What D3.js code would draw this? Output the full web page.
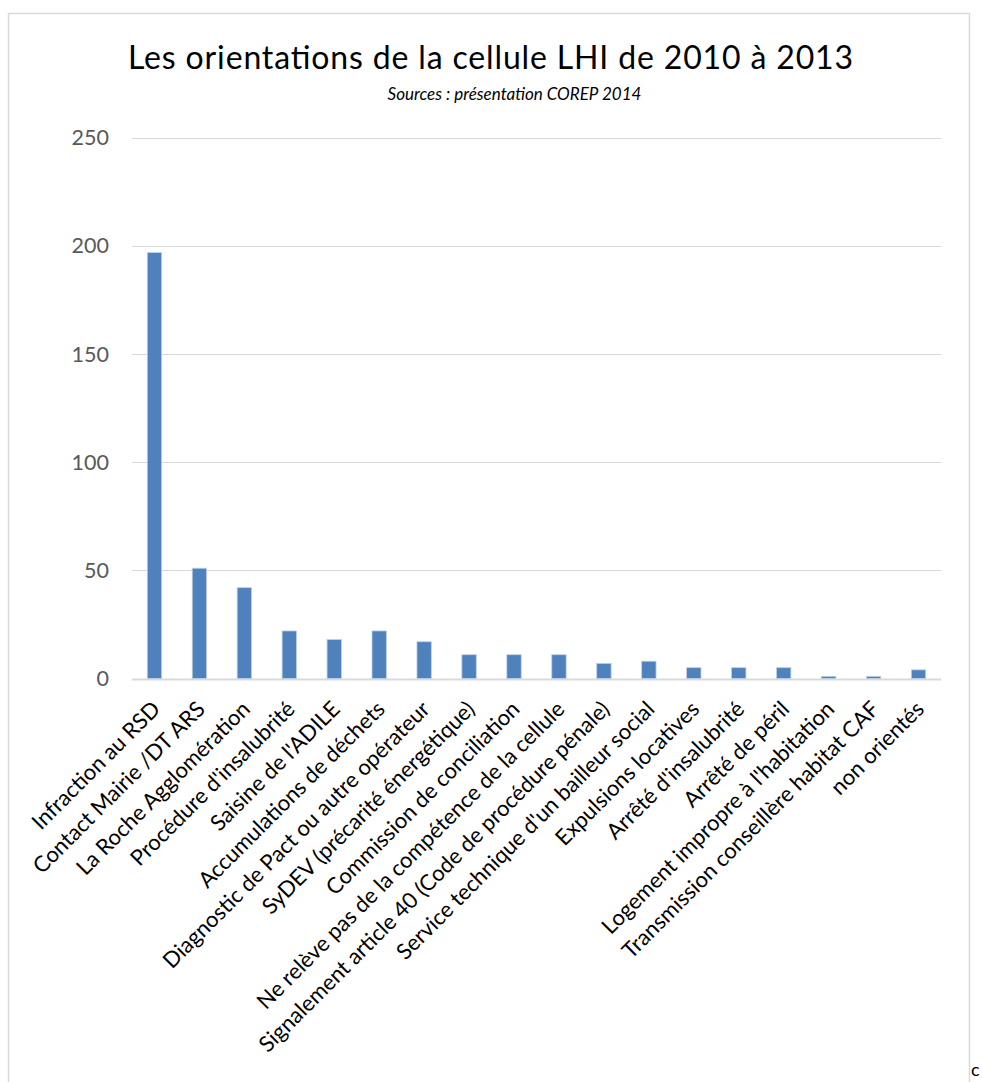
<!DOCTYPE html>
<html>
<head>
<meta charset="utf-8">
<script src="https://cdn.jsdelivr.net/npm/d3@7"></script>
<style>
  html, body { margin: 0; padding: 0; background: #fff; }
  svg { display: block; }
</style>
</head>
<body>
<svg id="chart" width="982" height="1082"></svg>
<script>
const categories = [
  "Infraction au RSD",
  "Contact Mairie /DT ARS",
  "La Roche Agglomération",
  "Procédure d'insalubrité",
  "Saisine de l'ADILE",
  "Accumulations de déchets",
  "Diagnostic de Pact ou autre opérateur",
  "SyDEV (précarité énergétique)",
  "Commission de conciliation",
  "Ne relève pas de la compétence de la cellule",
  "Signalement article 40 (Code de procédure pénale)",
  "Service technique d'un bailleur social",
  "Expulsions locatives",
  "Arrêté d'insalubrité",
  "Arrêté de péril",
  "Logement impropre à l'habitation",
  "Transmission conseillère habitat CAF",
  "non orientés"
];
const values = [197, 51, 42, 22, 18, 22, 17, 11, 11, 11, 7, 8, 5, 5, 5, 1, 1, 4];
const yTicks = [0, 50, 100, 150, 200, 250];
const titleText = "Les orientations de la cellule LHI de 2010 à 2013";
const subtitleText = "Sources : présentation COREP 2014";

const svg = d3.select("#chart");
const FONT = "Lato, 'Open Sans', sans-serif";

// outer chart frame
svg.append("rect")
  .attr("x", 8.5).attr("y", 13.5)
  .attr("width", 961).attr("height", 1080)
  .attr("fill", "#fff").attr("stroke", "#D9D9D9").attr("stroke-width", 1.5);

const plot = { left: 132, right: 941, top: 138, bottom: 678.5 };

const x = d3.scaleBand()
  .domain(categories)
  .range([plot.left, plot.right])
  .paddingInner(0.68).paddingOuter(0.34);

const y = d3.scaleLinear()
  .domain([0, 250])
  .range([plot.bottom, plot.top]);

// gridlines
svg.append("g")
  .selectAll("line")
  .data(yTicks)
  .join("line")
  .attr("x1", plot.left).attr("x2", plot.right)
  .attr("y1", d => Math.round(y(d)) + 0.5).attr("y2", d => Math.round(y(d)) + 0.5)
  .attr("stroke", "#D9D9D9")
  .attr("stroke-width", d => d === 0 ? 2 : 1.2);

// y axis labels
const yAxis = d3.axisLeft(y).tickValues(yTicks).tickSize(0).tickPadding(23);
const yg = svg.append("g").attr("transform", `translate(${plot.left},0)`).call(yAxis);
yg.select(".domain").remove();
yg.selectAll("text")
  .attr("font-family", FONT)
  .attr("font-size", 21.5)
  .attr("fill", "#595959");

// bars
svg.append("g")
  .selectAll("rect")
  .data(categories.map((c, i) => ({ c, v: values[i] })))
  .join("rect")
  .attr("x", d => x(d.c))
  .attr("width", x.bandwidth())
  .attr("y", d => y(d.v))
  .attr("height", d => y(0) - y(d.v))
  .attr("fill", "#4F81BD")
  .attr("stroke", "#BFD0E6")
  .attr("stroke-width", 0.8);

// x axis labels (rotated)
const xAxis = d3.axisBottom(x).tickSize(0).tickPadding(0);
const xg = svg.append("g").attr("transform", `translate(0,${plot.bottom})`).call(xAxis);
xg.select(".domain").remove();
xg.selectAll(".tick text")
  .attr("font-family", FONT)
  .attr("font-size", 22)
  .attr("fill", "#000")
  .attr("text-anchor", "end")
  .attr("x", 0).attr("y", 0).attr("dy", 0)
  .attr("transform", "translate(7,32) rotate(-45)");

// title
svg.append("text")
  .attr("x", 128).attr("y", 69)
  .attr("font-family", FONT)
  .attr("font-size", 32)
  .attr("textLength", 725)
  .attr("lengthAdjust", "spacing")
  .attr("fill", "#000")
  .text(titleText);

svg.append("text")
  .attr("x", 514.5).attr("y", 100)
  .attr("text-anchor", "middle")
  .attr("font-family", FONT)
  .attr("font-style", "italic")
  .attr("font-size", 17)
  .attr("fill", "#000")
  .text(subtitleText);

// stray glyph at bottom-right edge
svg.append("text")
  .attr("x", 971).attr("y", 1076)
  .attr("font-family", FONT)
  .attr("font-size", 18)
  .attr("fill", "#000")
  .text("c");
</script>
</body>
</html>
